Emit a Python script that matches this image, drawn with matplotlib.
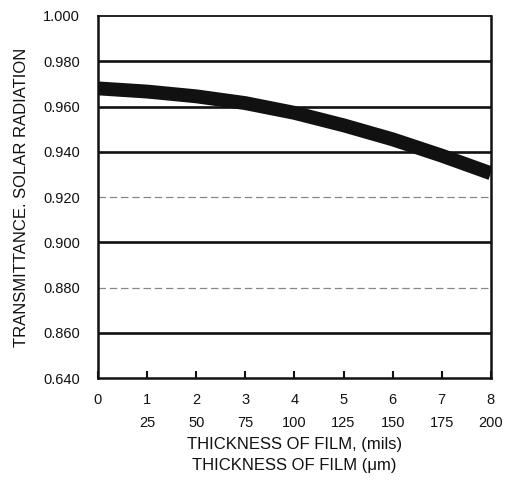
import matplotlib
matplotlib.use("Agg")
import matplotlib.pyplot as plt
import numpy as np

# Data
thickness_mils = [0, 1, 2, 3, 4, 5, 6, 7, 8]
transmittance = [0.968, 0.9666, 0.9645, 0.9615, 0.9572, 0.9517, 0.9455, 0.9383, 0.9305]
mils_labels = ["0", "1", "2", "3", "4", "5", "6", "7", "8"]
um_labels = ["", "25", "50", "75", "100", "125", "150", "175", "200"]
y_ticks = [0.84, 0.86, 0.88, 0.90, 0.92, 0.94, 0.96, 0.98, 1.00]
y_labels = ["0.640", "0.860", "0.880", "0.900", "0.920", "0.940", "0.960", "0.980", "1.000"]
strong_grid = [0.86, 0.90, 0.94, 0.96, 0.98]
faint_grid = [0.88, 0.92]

plt.rcParams['font.family'] = ['Liberation Sans', 'DejaVu Sans']

fig = plt.figure(figsize=(5.05, 4.83), dpi=100)
ax = fig.add_axes([0.194, 0.217, 0.778, 0.750])

ax.set_xlim(0, 8)
ax.set_ylim(0.84, 1.00)

for g in strong_grid:
    ax.axhline(g, color='#111111', lw=1.9, zorder=1)
for g in faint_grid:
    ax.axhline(g, color='#555555', lw=0.9, ls=(0, (6, 3)), alpha=0.7, zorder=1)

ax.plot(thickness_mils, transmittance, color='#111111', lw=10,
        solid_capstyle='butt', solid_joinstyle='round', zorder=3)

for s in ax.spines.values():
    s.set_linewidth(1.8)
    s.set_color('#111111')
ax.spines['top'].set_linewidth(1.3)

ax.set_yticks(y_ticks)
ax.set_yticklabels(y_labels)
ax.tick_params(axis='y', length=0, pad=13, labelsize=10.5, colors='#111111')

ax.set_xticks(thickness_mils)
ax.set_xticklabels([m if u == "" else m + "\n" + u for m, u in zip(mils_labels, um_labels)],
                   linespacing=1.8)
ax.tick_params(axis='x', direction='in', length=5, width=1.5, pad=11,
               labelsize=10.5, colors='#111111')

ax.set_ylabel("TRANSMITTANCE. SOLAR RADIATION", fontsize=12, color='#111111', labelpad=10)
fig.text(0.583, 0.080, "THICKNESS OF FILM, (mils)", ha='center', va='center',
         fontsize=12, color='#111111')
fig.text(0.583, 0.036, "THICKNESS OF FILM (\u03bcm)", ha='center', va='center',
         fontsize=12, color='#111111')

fig.savefig("out.png", dpi=100)
